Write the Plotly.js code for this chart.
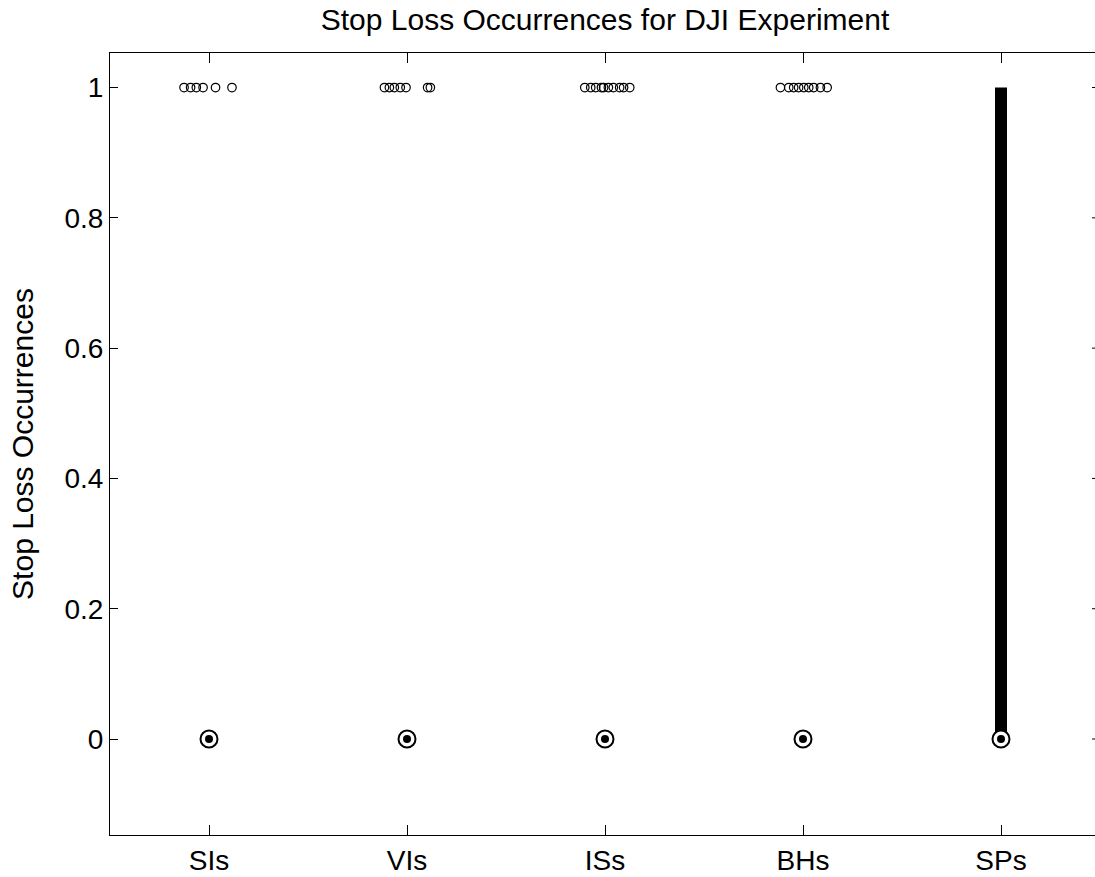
<!DOCTYPE html>
<html>
<head>
<meta charset="utf-8">
<script src="https://cdn.plot.ly/plotly-3.0.1.min.js"></script>
<style>
html,body{margin:0;padding:0;overflow:hidden;background:#fff;width:1095px;height:877px;}
#wrap{position:relative;width:1095px;height:877px;overflow:hidden;}
#chart{position:absolute;left:0;top:0;width:1110px;height:877px;}
</style>
</head>
<body>
<div id="wrap"><div id="chart"></div></div>
<script>
// ---- data ----
const categories = ['SIs', 'VIs', 'ISs', 'BHs', 'SPs'];
const medians = [0, 0, 0, 0, 0];
const q1 = [0, 0, 0, 0, 0];
const q3 = [0, 0, 0, 0, 1];
// outlier positions (jittered x, y value)
const outSIsX = [0.874, 0.907, 0.936, 0.970, 1.033, 1.116];
const outSIsY = [1, 1, 1, 1, 1, 1];
const outVIsX = [1.886, 1.911, 1.936, 1.966, 1.995, 2.104, 2.118];
const outVIsY = [1, 1, 1, 1, 1, 1, 1];
const outISsX = [2.898, 2.928, 2.953, 2.982, 2.993, 3.017, 3.042, 3.074, 3.094, 3.125];
const outISsY = [1, 1, 1, 1, 1, 1, 1, 1, 1, 1];
const outBHsX = [3.886, 3.928, 3.953, 3.978, 4.004, 4.029, 4.054, 4.088, 4.122];
const outBHsY = [1, 1, 1, 1, 1, 1, 1, 1, 1];
const outSPsX = [];
const outSPsY = [];
const yTicks = [0, 0.2, 0.4, 0.6, 0.8, 1];
const yTickText = ['0', '0.2', '0.4', '0.6', '0.8', '1'];

const pos = categories.map((c, i) => i + 1);
const traces = [];

// boxes (compact style: thick bar from q1 to q3)
pos.forEach((p, i) => {
  if (q3[i] > q1[i]) {
    traces.push({
      x: [p, p], y: [q1[i], q3[i]], type: 'scatter', mode: 'lines',
      line: {color: '#000', width: 12}, hoverinfo: 'skip', showlegend: false
    });
  }
});

// outliers
const outX = [outSIsX, outVIsX, outISsX, outBHsX, outSPsX];
const outY = [outSIsY, outVIsY, outISsY, outBHsY, outSPsY];
outX.forEach((xs, i) => {
  if (xs.length) {
    traces.push({
      x: xs, y: outY[i], type: 'scatter', mode: 'markers',
      marker: {symbol: 'circle-open', size: 8.5, color: '#000', line: {width: 1.2, color: '#000'}},
      showlegend: false
    });
  }
});

// median markers: ring + dot
traces.push({
  x: pos, y: medians, type: 'scatter', mode: 'markers',
  marker: {symbol: 'circle', size: 17, color: '#fff', line: {width: 2, color: '#000'}},
  showlegend: false
});
traces.push({
  x: pos, y: medians, type: 'scatter', mode: 'markers',
  marker: {symbol: 'circle', size: 8, color: '#000', line: {width: 0}},
  showlegend: false
});

// right-side mirrored y ticks (the right spine lies outside the cropped picture)
const plotW = 1110 - 110 - 10;
const rightTicks = yTicks.map(v => ({
  type: 'line', xref: 'paper', yref: 'y',
  x0: 1 - 8 / plotW, x1: 1, y0: v, y1: v,
  line: {color: '#000', width: 1}
}));

const fontFam = '"Liberation Sans", Arial, Helvetica, sans-serif';
const layout = {
  width: 1110, height: 877,
  margin: {l: 110, r: 10, t: 53, b: 42, autoexpand: false},
  paper_bgcolor: '#fff', plot_bgcolor: '#fff',
  font: {family: fontFam, color: '#000', size: 28},
  title: {
    text: 'Stop Loss Occurrences for DJI Experiment',
    font: {family: fontFam, size: 30, color: '#000'},
    x: 0.5, xref: 'paper', xanchor: 'center',
    y: 1 - 30 / 877, yref: 'container', yanchor: 'bottom'
  },
  xaxis: {
    range: [0.5, 5.5], tickvals: pos, ticktext: categories,
    ticks: 'inside', ticklen: 10, tickwidth: 1, tickcolor: '#000',
    showline: true, linecolor: '#000', linewidth: 1, mirror: 'ticks',
    showgrid: false, zeroline: false,
    tickfont: {family: fontFam, size: 28, color: '#000'}
  },
  yaxis: {
    range: [-0.1473, 1.053], tickvals: yTicks, ticktext: yTickText,
    ticks: 'inside', ticklen: 8, tickwidth: 1, tickcolor: '#000',
    showline: true, linecolor: '#000', linewidth: 1, mirror: false,
    showgrid: false, zeroline: false,
    tickfont: {family: fontFam, size: 28, color: '#000'},
    title: {text: 'Stop Loss Occurrences', font: {family: fontFam, size: 30, color: '#000'}, standoff: 21}
  },
  shapes: rightTicks
};

Plotly.newPlot('chart', traces, layout, {displayModeBar: false, staticPlot: true});
</script>
</body>
</html>
